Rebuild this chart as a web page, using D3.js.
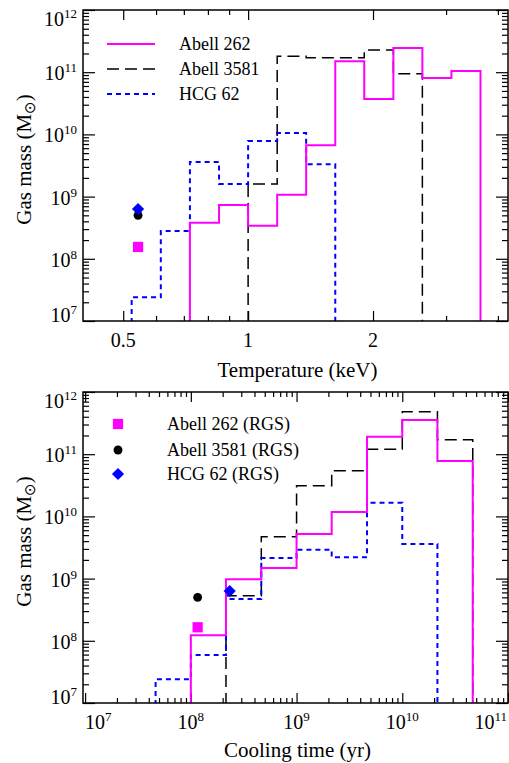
<!DOCTYPE html>
<html><head><meta charset="utf-8">
<script src="https://cdn.jsdelivr.net/npm/d3@7"></script>
<style>
body{margin:0;background:#fff}
svg{display:block}
text{font-family:"Liberation Serif","Times New Roman",Times,serif;fill:#000}
</style>
</head><body>
<svg id="c" width="509" height="763"></svg>
<script>
// ---------- DATA ----------
// Top panel: gas mass vs temperature (keV), histogram bin edges and masses
const tempEdgesA262  = [0.724, 0.851, 1.0, 1.175, 1.380, 1.622, 1.905, 2.239, 2.630, 3.090, 3.631];
const tempMassA262   = [3.8e8, 7.3e8, 3.4e8, 1.07e9, 6.7e9, 1.5e11, 3.7e10, 2.45e11, 8.1e10, 1.05e11];
const tempEdgesA3581 = [1.0, 1.175, 1.380, 1.622, 1.905, 2.239, 2.630];
const tempMassA3581  = [1.6e9, 1.8e11, 1.7e11, 1.7e11, 2.27e11, 9.4e10];
const tempEdgesHCG62 = [0.524, 0.616, 0.724, 0.851, 1.0, 1.175, 1.380, 1.622];
const tempMassHCG62  = [2.4e7, 2.8e8, 3.6e9, 1.6e9, 7.8e9, 1.05e10, 3.3e9];
// RGS points (top): A262, A3581, HCG62
const rgsTemp = [0.543, 0.543, 0.543];
const rgsTempMass = [1.55e8, 5.0e8, 6.3e8];

// Bottom panel: gas mass vs cooling time (yr)
const coolEdgesA262  = [1e8, 2.15e8, 4.64e8, 1e9, 2.15e9, 4.64e9, 1e10, 2.15e10, 4.64e10];
const coolMassA262   = [1.23e8, 9.8e8, 1.48e9, 5.2e9, 1.18e10, 1.9e11, 3.55e11, 7.8e10];
const coolEdgesA3581 = [2.15e8, 4.64e8, 1e9, 2.15e9, 4.64e9, 1e10, 2.15e10, 4.64e10];
const coolMassA3581  = [5.3e8, 4.7e9, 3.1e10, 5.4e10, 1.2e11, 4.8e11, 1.7e11];
const coolEdgesHCG62 = [4.64e7, 1e8, 2.15e8, 4.64e8, 1e9, 2.15e9, 4.64e9, 1e10, 2.15e10];
const coolMassHCG62  = [2.4e7, 5.9e7, 4.7e8, 2.15e9, 2.9e9, 2.2e9, 1.65e10, 3.6e9];
const rgsCool = [1.16e8, 1.16e8, 2.33e8];
const rgsCoolMass = [1.65e8, 5.0e8, 6.3e8];

const seriesNames = ["Abell 262", "Abell 3581", "HCG 62"];
const rgsNames = ["Abell 262 (RGS)", "Abell 3581 (RGS)", "HCG 62 (RGS)"];

const tempMajorTicks = [0.5, 1, 2];
const tempMinorTicks = [0.6, 0.7, 0.8, 0.9, 3, 4];
const massDecades = [7, 8, 9, 10, 11, 12];
const coolDecades = [7, 8, 9, 10, 11];

// ---------- STYLE ----------
const colors = ["#ff00ff", "#000000", "#0000ff"];
const widths = [2, 1.5, 2];
const dashes = [null, "12,6", "5,4"];
const drawOrder = [1, 2, 0];

const svg = d3.select("#c");
const L = 83, R = 508;

function supLabel(sel, base, exp){
  sel.append("tspan").text(base);
  sel.append("tspan").attr("dy", -8).attr("font-size", 13).text(exp);
}

function drawPanel(cfg){
  const {y0, y1, x, id} = cfg;
  const top = y0, bottom = y1;
  const y = d3.scaleLog().domain([1e7, 1e12]).range([bottom, top]);
  const g = svg.append("g");
  g.append("clipPath").attr("id", id).append("rect")
    .attr("x", L).attr("y", top).attr("width", R - L).attr("height", bottom - top);

  const yMajor = massDecades.map(d => Math.pow(10, d));
  const yMinor = [];
  massDecades.slice(0, -1).forEach(d => { for (let k = 2; k <= 9; k++) yMinor.push(k * Math.pow(10, d)); });
  const tickAxis = (axisFn, scale, vals, size, tr) => {
    g.append("g").attr("transform", tr)
      .call(axisFn(scale).tickValues(vals).tickSizeInner(-size).tickSizeOuter(0).tickFormat(""))
      .call(s => s.select(".domain").remove())
      .call(s => s.selectAll("line").attr("stroke", "#000").attr("stroke-width", 1.2));
  };
  tickAxis(d3.axisLeft, y, yMajor, 12, `translate(${L},0)`);
  tickAxis(d3.axisLeft, y, yMinor, 6, `translate(${L},0)`);
  tickAxis(d3.axisRight, y, yMajor, 12, `translate(${R},0)`);
  tickAxis(d3.axisRight, y, yMinor, 6, `translate(${R},0)`);
  tickAxis(d3.axisBottom, x, cfg.xMajor, 10, `translate(0,${bottom})`);
  tickAxis(d3.axisBottom, x, cfg.xMinor, 5, `translate(0,${bottom})`);
  tickAxis(d3.axisTop, x, cfg.xMajor, 10, `translate(0,${top})`);
  tickAxis(d3.axisTop, x, cfg.xMinor, 5, `translate(0,${top})`);

  massDecades.forEach(d => {
    const ty = y(Math.pow(10, d));
    let by = ty + 8;
    if (by < top + 16) by = top + 16;
    if (by > bottom + 1) by = bottom + 1;
    const t = g.append("text").attr("x", 77).attr("y", by)
      .attr("text-anchor", "end").attr("font-size", 20);
    supLabel(t, "10", d);
  });

  const cp = g.append("g").attr("clip-path", `url(#${id})`);
  drawOrder.forEach(i => {
    const s = cfg.series[i];
    const pts = [[x(s.edges[0]), bottom + 2]];
    s.mass.forEach((m, j) => {
      pts.push([x(s.edges[j]), y(m)]);
      pts.push([x(s.edges[j + 1]), y(m)]);
    });
    pts.push([x(s.edges[s.edges.length - 1]), bottom + 2]);
    cp.append("path").attr("d", d3.line()(pts))
      .attr("fill", "none").attr("stroke", colors[i]).attr("stroke-width", widths[i])
      .attr("stroke-dasharray", dashes[i]).attr("stroke-linejoin", "miter");
  });

  const syms = [
    {type: d3.symbolSquare, size: 105, rot: 0},
    {type: d3.symbolCircle, size: 62, rot: 0},
    {type: d3.symbolSquare, size: 74, rot: 45}
  ];
  cfg.points.x.forEach((px, i) => {
    g.append("path")
      .attr("d", d3.symbol().type(syms[i].type).size(syms[i].size)())
      .attr("transform", `translate(${x(px)},${y(cfg.points.y[i])}) rotate(${syms[i].rot})`)
      .attr("fill", colors[i]);
  });

  g.append("rect").attr("x", L).attr("y", top).attr("width", R - L).attr("height", bottom - top)
    .attr("fill", "none").attr("stroke", "#000").attr("stroke-width", 1.5);

  const yt = g.append("text")
    .attr("transform", `translate(31,${(top + bottom) / 2 - 6}) rotate(-90)`)
    .attr("text-anchor", "middle").attr("font-size", 21);
  yt.append("tspan").text("Gas mass (M");
  yt.append("tspan").attr("dy", 4).attr("font-size", 15).attr("font-family", "DejaVu Sans").text("⊙");
  yt.append("tspan").attr("dy", -4).text(")");

  g.append("text").attr("x", (L + R) / 2 + 2).attr("y", bottom + cfg.titleDy)
    .attr("text-anchor", "middle").attr("font-size", 21).text(cfg.xTitle);
  return {g, x, y};
}

// ---------- TOP PANEL ----------
const xTemp = d3.scaleLog().domain([0.4, 4.23]).range([L, R]);
const topP = drawPanel({
  id: "clipTop", y0: 10, y1: 321, x: xTemp, titleDy: 56,
  xMajor: tempMajorTicks, xMinor: tempMinorTicks,
  xTitle: "Temperature (keV)",
  series: [
    {edges: tempEdgesA262, mass: tempMassA262},
    {edges: tempEdgesA3581, mass: tempMassA3581},
    {edges: tempEdgesHCG62, mass: tempMassHCG62}
  ],
  points: {x: rgsTemp, y: rgsTempMass}
});
tempMajorTicks.forEach(v => {
  topP.g.append("text").attr("x", xTemp(v)).attr("y", 347)
    .attr("text-anchor", "middle").attr("font-size", 20).text(v);
});
const legY = [44, 69, 94];
seriesNames.forEach((n, i) => {
  topP.g.append("line").attr("x1", 107).attr("x2", 155).attr("y1", legY[i]).attr("y2", legY[i])
    .attr("stroke", colors[i]).attr("stroke-width", widths[i]).attr("stroke-dasharray", dashes[i]);
  topP.g.append("text").attr("x", 179).attr("y", legY[i] + 6).attr("font-size", 18).text(n);
});

// ---------- BOTTOM PANEL ----------
const xCool = d3.scaleLog().domain([Math.pow(10, 6.98), 1e11]).range([L, R]);
const coolMinor = [];
coolDecades.slice(0, -1).forEach(d => { for (let k = 2; k <= 9; k++) coolMinor.push(k * Math.pow(10, d)); });
const botP = drawPanel({
  id: "clipBot", y0: 392, y1: 703, x: xCool, titleDy: 54,
  xMajor: coolDecades.map(d => Math.pow(10, d)), xMinor: coolMinor,
  xTitle: "Cooling time (yr)",
  series: [
    {edges: coolEdgesA262, mass: coolMassA262},
    {edges: coolEdgesA3581, mass: coolMassA3581},
    {edges: coolEdgesHCG62, mass: coolMassHCG62}
  ],
  points: {x: rgsCool, y: rgsCoolMass}
});
coolDecades.forEach((d, i) => {
  let anchor = "middle", px = xCool(Math.pow(10, d));
  if (i === 0) { anchor = "start"; px = L + 2; }
  if (i === coolDecades.length - 1) { anchor = "end"; px = R - 1; }
  const t = botP.g.append("text").attr("x", px).attr("y", 729)
    .attr("text-anchor", anchor).attr("font-size", 20);
  supLabel(t, "10", d);
});
const legY2 = [424, 450, 474];
const legSyms = [
  {type: d3.symbolSquare, size: 105, rot: 0},
  {type: d3.symbolCircle, size: 62, rot: 0},
  {type: d3.symbolSquare, size: 74, rot: 45}
];
rgsNames.forEach((n, i) => {
  botP.g.append("path").attr("d", d3.symbol().type(legSyms[i].type).size(legSyms[i].size)())
    .attr("transform", `translate(118,${legY2[i]}) rotate(${legSyms[i].rot})`)
    .attr("fill", colors[i]);
  botP.g.append("text").attr("x", 167).attr("y", legY2[i] + 6).attr("font-size", 18).text(n);
});
</script>
</body></html>
